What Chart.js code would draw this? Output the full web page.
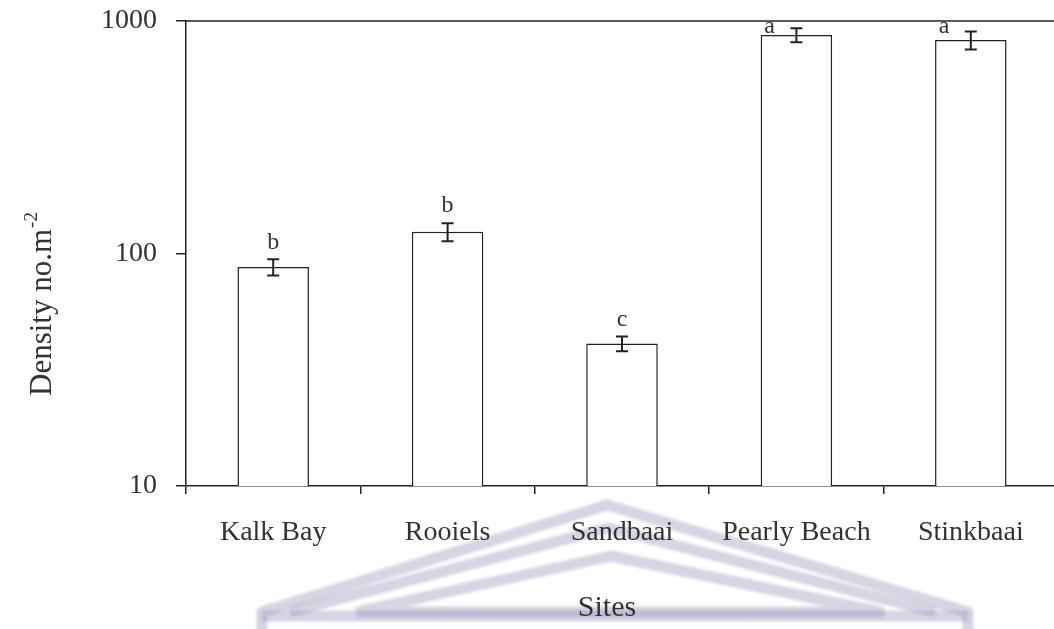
<!DOCTYPE html>
<html>
<head>
<meta charset="utf-8">
<script src="https://cdn.jsdelivr.net/npm/chart.js@4/dist/chart.umd.min.js"></script>
<style>
  html, body { margin: 0; padding: 0; background: #fff; overflow: hidden; }
  #wrap { width: 1070px; height: 629px; }
</style>
</head>
<body>
<div id="wrap"><canvas id="c" width="1070" height="629"></canvas></div>
<script>
// Mean density per site (no. per m²), standard error, and significance groups
const sites = ['Kalk Bay', 'Rooiels', 'Sandbaai', 'Pearly Beach', 'Stinkbaai'];
const density = [87.5, 124, 41, 870, 828];
const stdErr = [7, 11, 3, 60, 73];
const groups = ['b', 'b', 'c', 'a', 'a'];
const yTicks = [10, 100, 1000];

const SERIF = '"Liberation Serif", "Times New Roman", serif';
const INK = '#222';
const TEXT = '#333';

// Faint crest printed behind the figure
const crestPlugin = {
  id: 'crest',
  beforeDraw(chart) {
    const ctx = chart.ctx;
    ctx.save();
    ctx.fillStyle = '#fff';
    ctx.fillRect(0, 0, chart.width, chart.height);
    ctx.filter = 'blur(1.5px)';
    ctx.strokeStyle = 'rgba(150,150,185,0.4)';
    ctx.lineJoin = 'round';
    ctx.lineWidth = 11;
    ctx.beginPath();
    ctx.moveTo(262, 640); ctx.lineTo(262, 612); ctx.lineTo(607, 505); ctx.lineTo(968, 612); ctx.lineTo(968, 640);
    ctx.stroke();
    ctx.beginPath();
    ctx.moveTo(290, 612); ctx.lineTo(608, 528); ctx.lineTo(935, 612);
    ctx.stroke();
    ctx.beginPath();
    ctx.moveTo(356, 612); ctx.lineTo(611, 556); ctx.lineTo(880, 612); ctx.lineTo(356, 612);
    ctx.stroke();
    ctx.beginPath();
    ctx.moveTo(262, 616); ctx.lineTo(968, 616);
    ctx.stroke();
    ctx.restore();
  }
};

// Error bars, group letters, top frame line and axis titles
const decorPlugin = {
  id: 'decor',
  afterDatasetsDraw(chart) {
    const ctx = chart.ctx;
    const y = chart.scales.y;
    const area = chart.chartArea;
    const meta = chart.getDatasetMeta(0);
    ctx.save();

    // frame line along the top of the plot
    ctx.strokeStyle = INK;
    ctx.lineWidth = 1.5;
    ctx.beginPath();
    ctx.moveTo(area.left, area.top);
    ctx.lineTo(area.right, area.top);
    ctx.stroke();

    meta.data.forEach((bar, i) => {
      const yHi = y.getPixelForValue(density[i] + stdErr[i]);
      const yLo = y.getPixelForValue(density[i] - stdErr[i]);
      const x = bar.x;
      ctx.strokeStyle = INK;
      ctx.lineWidth = 2;
      ctx.beginPath();
      ctx.moveTo(x, yHi); ctx.lineTo(x, yLo);
      ctx.moveTo(x - 6, yHi); ctx.lineTo(x + 6, yHi);
      ctx.moveTo(x - 6, yLo); ctx.lineTo(x + 6, yLo);
      ctx.stroke();

      ctx.fillStyle = TEXT;
      ctx.font = '24px ' + SERIF;
      ctx.textAlign = 'center';
      ctx.textBaseline = 'middle';
      if (yHi - 30 > area.top) {
        ctx.fillText(groups[i], x, yHi - 17);
      } else {
        ctx.fillText(groups[i], bar.x - bar.width / 2 + 9, area.top + 6);
      }
    });

    // x-axis title
    ctx.fillStyle = TEXT;
    ctx.font = '30px ' + SERIF;
    ctx.textAlign = 'center';
    ctx.textBaseline = 'alphabetic';
    ctx.fillText('Sites', 607, 616);

    // y-axis title with superscript exponent
    ctx.save();
    ctx.translate(51, 0);
    ctx.rotate(-Math.PI / 2);
    ctx.textAlign = 'left';
    const main = 'Density no.m';
    ctx.font = '31px ' + SERIF;
    const wMain = ctx.measureText(main).width;
    ctx.fillText(main, -396, 0);
    ctx.font = '19px ' + SERIF;
    ctx.fillText('-2', -396 + wMain + 1, -14);
    ctx.restore();

    ctx.restore();
  }
};

new Chart(document.getElementById('c'), {
  type: 'bar',
  data: {
    labels: sites,
    datasets: [{
      data: density,
      backgroundColor: '#fff',
      borderColor: INK,
      borderWidth: 1.5,
      barPercentage: 0.41,
      categoryPercentage: 1
    }]
  },
  options: {
    responsive: false,
    animation: false,
    devicePixelRatio: 1,
    layout: { padding: { left: 0, right: 12, top: 21, bottom: 0 } },
    plugins: { legend: { display: false }, tooltip: { enabled: false } },
    scales: {
      x: {
        afterFit: s => { s.height = 143; s.paddingLeft = 0; s.paddingRight = 0; },
        ticks: { font: { family: SERIF, size: 28 }, color: TEXT, padding: 22, maxRotation: 0, autoSkip: false },
        grid: { offset: true, drawOnChartArea: false, drawTicks: true, tickLength: 8, color: INK, lineWidth: 1.5 },
        border: { color: INK, width: 1.5 }
      },
      y: {
        type: 'logarithmic',
        min: 10,
        max: 1000,
        afterBuildTicks: s => { s.ticks = yTicks.map(v => ({ value: v })); },
        afterFit: s => { s.width = 186; s.paddingTop = 0; s.paddingBottom = 0; },
        ticks: { font: { family: SERIF, size: 28 }, color: TEXT, padding: 19, callback: v => String(v) },
        grid: { drawOnChartArea: false, drawTicks: true, tickLength: 10, color: INK, lineWidth: 1.5 },
        border: { color: INK, width: 1.5 }
      }
    }
  },
  plugins: [crestPlugin, decorPlugin]
});
</script>
</body>
</html>
